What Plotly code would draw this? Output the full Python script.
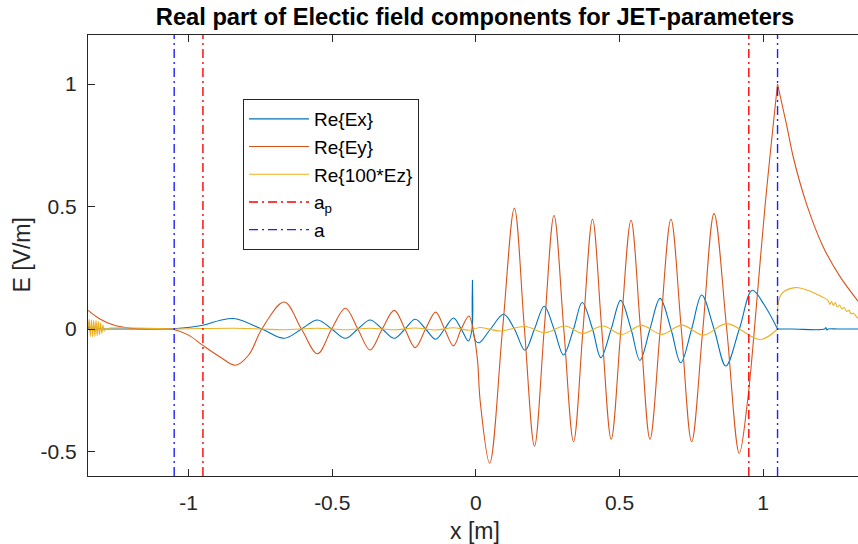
import plotly.graph_objects as go

# ---------------- data ----------------
x_range = [-1.35, 1.33]
y_range = [-0.6, 1.2]
x_tickvals = [-1, -0.5, 0, 0.5, 1]
x_ticktext = ["-1", "-0.5", "0", "0.5", "1"]
y_tickvals = [-0.5, 0, 0.5, 1]
y_ticktext = ["-0.5", "0", "0.5", "1"]

a_p = 0.95   # plasma radius
a = 1.05     # antenna / wall radius

# Re{Ex}
ex_x = [-1.35, -1.346, -1.342, -1.338, -1.334, -1.330, -1.326, -1.322, -1.318, -1.314, -1.310, -1.306, -1.30,
        -1.29, -1.12, -1.052, -0.95, -0.889, -0.837, -0.745, -0.667, -0.607, -0.551, -0.502, -0.454,
        -0.411, -0.368, -0.326, -0.284, -0.247, -0.211, -0.175, -0.140, -0.109, -0.078, -0.051, -0.026,
        -0.0135, -0.012, -0.0105, 0.0, 0.012, 0.051, 0.097, 0.134, 0.171, 0.204, 0.238, 0.272, 0.305,
        0.340, 0.370, 0.406, 0.435, 0.471, 0.504, 0.540, 0.571, 0.606, 0.641, 0.679, 0.713, 0.751, 0.786,
        0.829, 0.870, 0.917, 0.962, 1.006, 1.05, None,
        1.05, 1.10, 1.214, 1.218, 1.222, 1.226, 1.26, 1.33]
ex_y = [0.0, 0.012, -0.010, 0.012, -0.010, 0.010, -0.008, 0.008, -0.006, 0.006, -0.004, 0.003, 0.0,
        0.0, 0.0, 0.001, 0.015, 0.036, 0.042, 0.0, -0.038, 0.0, 0.037, 0.0, -0.038,
        0.0, 0.037, 0.0, -0.038, 0.0, 0.040, 0.0, -0.042, 0.0, 0.045, 0.0, -0.049,
        0.0, 0.199, 0.0, -0.050, -0.056, 0.0, 0.060, 0.0, -0.087, 0.0, 0.093, 0.0, -0.106,
        0.0, 0.108, 0.0, -0.117, 0.0, 0.117, 0.0, -0.128, 0.0, 0.125, 0.0, -0.138, 0.0, 0.139,
        0.0, -0.151, 0.0, 0.158, 0.094, 0.0, None,
        0.0, 0.0, 0.0, 0.006, -0.004, 0.0, 0.0, 0.0]

# Re{Ey}
ey_x = [-1.35, -1.307, -1.261, -1.202, -1.12, -1.052, -1.0, -0.95, -0.889, -0.837, -0.79, -0.745,
        -0.667, -0.607, -0.551, -0.502, -0.454, -0.411, -0.368, -0.326, -0.284, -0.247, -0.211,
        -0.175, -0.140, -0.109, -0.078, -0.051, -0.024, -0.008, 0.006, 0.015, 0.048, 0.093, 0.134,
        0.169, 0.204, 0.238, 0.272, 0.306, 0.340, 0.373, 0.406, 0.438, 0.471, 0.505, 0.540, 0.573,
        0.606, 0.642, 0.679, 0.715, 0.751, 0.790, 0.829, 0.873, 0.917, 0.945, 0.966, 1.006, 1.05, None,
        1.05, 1.082, 1.105, 1.151, 1.209, 1.267, 1.33]
ey_y = [0.076, 0.040, 0.016, 0.003, 0.0, -0.002, -0.025, -0.067, -0.115, -0.148, -0.105, 0.0,
        0.110, 0.0, -0.101, 0.0, 0.085, 0.0, -0.086, 0.0, 0.076, 0.0, -0.076,
        0.0, 0.069, 0.0, -0.069, 0.0, 0.053, -0.015, -0.131, -0.294, -0.548, 0.0, 0.493,
        0.0, -0.478, 0.0, 0.463, 0.0, -0.460, 0.0, 0.448, 0.0, -0.450, 0.0, 0.444, 0.0,
        -0.450, 0.0, 0.448, 0.0, -0.460, 0.0, 0.471, 0.0, -0.507, -0.300, -0.049, 0.496, 1.0, None,
        1.0, 0.830, 0.700, 0.510, 0.335, 0.215, 0.114]

# Re{100*Ez}
ez_x = [-1.35, -1.346, -1.342, -1.338, -1.334, -1.330, -1.326, -1.322, -1.318, -1.314, -1.310, -1.306,
        -1.302, -1.298, -1.294, -1.290, -1.05, -0.95, -0.837, -0.745, -0.667, -0.551, -0.454, -0.368,
        -0.284, -0.211, -0.140, -0.078, -0.024, 0.015, 0.085, 0.171, 0.241, 0.311, 0.372, 0.442, 0.508,
        0.577, 0.647, 0.717, 0.792, 0.873, 0.989, 1.05, None,
        1.05, 1.052, 1.065, 1.111, 1.15, 1.19, 1.215, 1.226, 1.232, 1.238, 1.244, 1.251, 1.258, 1.266,
        1.274, 1.282, 1.290, 1.298, 1.306, 1.315, 1.323, 1.330]
ez_y = [0.0, 0.040, -0.030, 0.038, -0.032, 0.036, -0.030, 0.034, -0.028, 0.030, -0.024, 0.025,
        -0.018, 0.016, -0.008, 0.0, 0.0, 0.002, 0.003, 0.0, -0.003, 0.003, -0.003, 0.003,
        -0.003, 0.004, -0.004, 0.005, -0.005, 0.006, -0.008, 0.010, -0.015, 0.012, -0.018, 0.012, -0.022,
        0.015, -0.022, 0.016, -0.025, 0.022, -0.043, 0.0, None,
        0.0, 0.100, 0.145, 0.169, 0.160, 0.140, 0.125, 0.116, 0.100, 0.112, 0.096, 0.108, 0.090, 0.098,
        0.082, 0.088, 0.072, 0.076, 0.062, 0.064, 0.052, 0.044]

# ---------------- style ----------------
C_EX = "#0072BD"
C_EY = "#D95319"
C_EZ = "#EDB120"
C_AP = "#FF0000"
C_A = "#2020FF"
AX = "#262626"
FONT = "Liberation Sans, Arial, Helvetica, sans-serif"
DASHDOT = "9px,4px,2px,4px"
LW = 1.1
VLW = 1.4

fig = go.Figure()
fig.add_trace(go.Scatter(x=ex_x, y=ex_y, mode="lines", name="Re{Ex}",
                         line=dict(color=C_EX, width=LW, shape="spline", smoothing=1.0)))
fig.add_trace(go.Scatter(x=ey_x, y=ey_y, mode="lines", name="Re{Ey}",
                         line=dict(color=C_EY, width=LW, shape="spline", smoothing=1.0)))
fig.add_trace(go.Scatter(x=ez_x, y=ez_y, mode="lines", name="Re{100*Ez}",
                         line=dict(color=C_EZ, width=LW, shape="spline", smoothing=1.0)))
fig.add_trace(go.Scatter(x=[-a_p, -a_p, None, a_p, a_p],
                         y=[y_range[0], y_range[1], None, y_range[0], y_range[1]],
                         mode="lines", name="a<sub>p</sub>",
                         line=dict(color=C_AP, width=VLW, dash=DASHDOT)))
fig.add_trace(go.Scatter(x=[-a, -a, None, a, a],
                         y=[y_range[0], y_range[1], None, y_range[0], y_range[1]],
                         mode="lines", name="a",
                         line=dict(color=C_A, width=VLW, dash=DASHDOT)))

L, R, T, B = 88, 0, 35, 68
W, H = 858, 544
pw = W - L - R
ph = H - T - B

fig.update_layout(
    width=W, height=H,
    margin=dict(l=L, r=R, t=T, b=B, pad=0),
    paper_bgcolor="white", plot_bgcolor="white",
    font=dict(family=FONT, color=AX),
    title=dict(text="<b>Real part of Electic field components for JET-parameters</b>",
               font=dict(family=FONT, size=23.7, color="black"),
               x=475 / W, xanchor="center", xref="container",
               y=1 - 17 / H, yanchor="middle", yref="container"),
    showlegend=True,
    legend=dict(x=(243 - L) / pw, y=(H - B - 99) / ph, xanchor="left", yanchor="top",
                bgcolor="white", bordercolor=AX, borderwidth=1,
                font=dict(family=FONT, size=19, color="black"),
                itemwidth=60, tracegroupgap=0),
    xaxis=dict(range=x_range, tickvals=x_tickvals, ticktext=x_ticktext,
               ticks="inside", ticklen=7, tickwidth=1, tickcolor=AX,
               showline=True, linecolor=AX, linewidth=1, mirror="ticks",
               showgrid=False, zeroline=False,
               tickfont=dict(family=FONT, size=21, color=AX),
               ticklabelstandoff=8),
    yaxis=dict(range=y_range, tickvals=y_tickvals, ticktext=y_ticktext,
               ticks="inside", ticklen=7, tickwidth=1, tickcolor=AX,
               showline=True, linecolor=AX, linewidth=1, mirror=False,
               showgrid=False, zeroline=False,
               tickfont=dict(family=FONT, size=21, color=AX),
               ticklabelstandoff=6),
    annotations=[
        dict(text="x [m]", xref="paper", yref="paper", x=(475 - L) / pw, y=(H - B - 531) / ph,
             xanchor="center", yanchor="middle", showarrow=False,
             font=dict(family=FONT, size=23, color=AX)),
        dict(text="E [V/m]", xref="paper", yref="paper", x=(21 - L) / pw, y=0.5,
             xanchor="center", yanchor="middle", showarrow=False, textangle=-90,
             font=dict(family=FONT, size=23, color=AX)),
    ],
)

fig.write_html("out.html")
